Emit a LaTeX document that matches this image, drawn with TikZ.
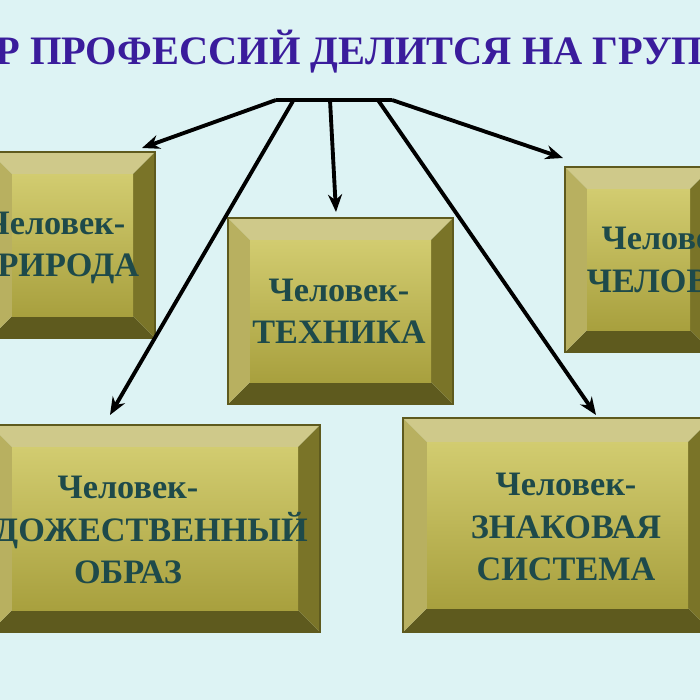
\documentclass[tikz,border=0pt]{standalone}
\usepackage{fontspec}
\setmainfont{Liberation Serif}
\usetikzlibrary{arrows.meta}
\definecolor{bgcyan}{HTML}{DDF3F4}
\definecolor{titleblue}{HTML}{3A1C9C}
\definecolor{boxtext}{HTML}{1E4A4A}
\definecolor{bevtop}{HTML}{CFC98A}
\definecolor{bevleft}{HTML}{B8B060}
\definecolor{bevbot}{HTML}{5E5A1E}
\definecolor{bevright}{HTML}{7A7428}
\definecolor{facelight}{HTML}{D2CC70}
\definecolor{facedark}{HTML}{A8A03E}
\tikzset{
  lbl/.style={font=\bfseries\fontsize{19.5}{22}\selectfont, text=boxtext, align=center},
  link/.style={line width=2.2pt, -{Stealth[length=10pt,width=8pt]}}
}
% bevelled box: #1 outer sw, #2 outer ne, #3 bevel
\newcommand{\bevbox}[5]{%
  \fill[bevtop] (#1,#2) -- (#3,#2) -- (#3-#5,#2+#5) -- (#1+#5,#2+#5) -- cycle;
  \fill[bevbot] (#1,#4) -- (#3,#4) -- (#3-#5,#4-#5) -- (#1+#5,#4-#5) -- cycle;
  \fill[bevleft] (#1,#2) -- (#1+#5,#2+#5) -- (#1+#5,#4-#5) -- (#1,#4) -- cycle;
  \fill[bevright] (#3,#2) -- (#3-#5,#2+#5) -- (#3-#5,#4-#5) -- (#3,#4) -- cycle;
  \shade[top color=facelight, bottom color=facedark] (#1+#5,#2+#5) rectangle (#3-#5,#4-#5);
  \draw[bevbot, line width=0.6pt] (#1,#2) rectangle (#3,#4);
}
\begin{document}
\begin{tikzpicture}[x=0.02cm, y=-0.02cm]
\fill[bgcyan] (0,0) rectangle (700,700);
\clip (0,0) rectangle (700,700);

\node[font=\bfseries\fontsize{23}{26}\selectfont, text=titleblue] (title) at (350,52) {МИР ПРОФЕССИЙ ДЕЛИТСЯ НА ГРУППЫ};

\bevbox{-10}{152}{155}{338}{22}
\bevbox{228}{218}{453}{404}{22}
\bevbox{565}{167}{712}{352}{22}
\bevbox{-10}{425}{320}{632}{22}
\bevbox{403}{418}{712}{632}{24}

\node[lbl] (nature) at (55,248) {Человек-\\[2pt]ПРИРОДА};
\node[lbl] (tech) at (339,311) {Человек-\\[2pt]ТЕХНИКА};
\node[lbl] (human) at (672,260) {Человек-\\[2pt]ЧЕЛОВЕК};
\node[lbl] (art) at (128,530) {Человек-\\[2pt]ХУДОЖЕСТВЕННЫЙ\\[2pt]ОБРАЗ};
\node[lbl] (sign) at (566,527) {Человек-\\[2pt]ЗНАКОВАЯ\\[2pt]СИСТЕМА};

\coordinate (barl) at (276,100);
\coordinate (barr) at (392,100);
\draw[line width=2.2pt] (barl) -- (barr);
\draw[link] (barl) -- (142,148);
\draw[link] ([xshift=10]barl) -- (110,415);
\draw[link] (330,100) -- (336,212);
\draw[link] ([xshift=-8]barr) -- (596,415);
\draw[link] (barr) -- (563,158);
\end{tikzpicture}
\end{document}
